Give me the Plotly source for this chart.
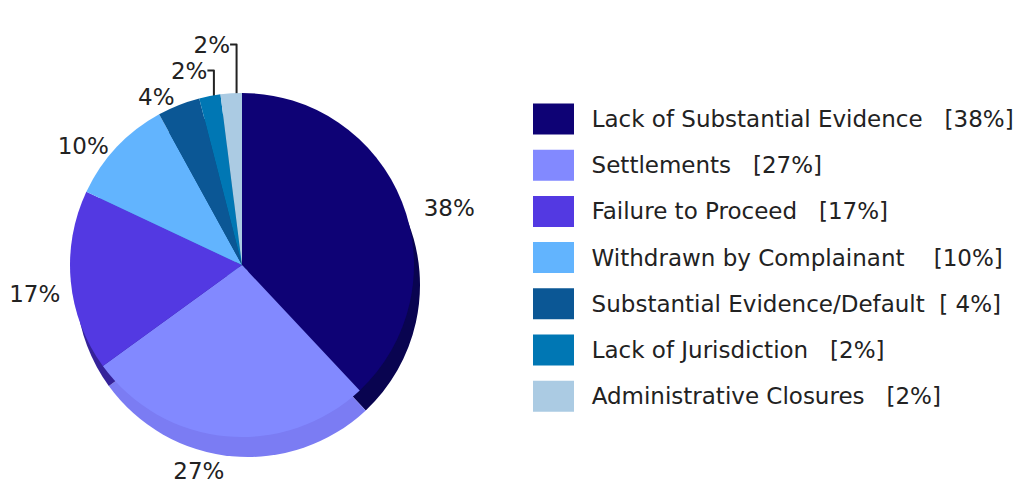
import plotly.graph_objects as go

categories = [
    "Lack of Substantial Evidence",
    "Settlements",
    "Failure to Proceed",
    "Withdrawn by Complainant",
    "Substantial Evidence/Default",
    "Lack of Jurisdiction",
    "Administrative Closures",
]
percentages = [38, 27, 17, 10, 4, 2, 2]
legend_labels = [
    "Lack of Substantial Evidence   [38%]",
    "Settlements   [27%]",
    "Failure to Proceed   [17%]",
    "Withdrawn by Complainant    [10%]",
    "Substantial Evidence/Default  [ 4%]",
    "Lack of Jurisdiction   [2%]",
    "Administrative Closures   [2%]",
]

top_colors = ["#0e0275", "#8289ff", "#5339e2", "#62b4fe", "#0b5795", "#0077b4", "#abcbe3"]
side_colors = ["#090450", "#7b7cf3", "#35229a", "#4a8fd0", "#083f6c", "#005684", "#8aa8c0"]

FONT = "DejaVu Sans"
FS = 23
W, H = 1023, 496
NB = "\u00a0"

# pie geometry (pixels)
cx, cy, r = 242, 265, 172
dx, dy = 6, 20
r_lab = 182


def dom(cx_, cy_, rr):
    return dict(x=[(cx_ - rr) / W, (cx_ + rr) / W], y=[(H - cy_ - rr) / H, (H - cy_ + rr) / H])


fig = go.Figure()

# invisible, slightly larger pie that carries the outside percentage labels
fig.add_trace(go.Pie(
    labels=categories, values=percentages, sort=False, direction="clockwise", rotation=0,
    marker=dict(colors=["rgba(0,0,0,0)"] * len(categories), line=dict(width=0)),
    texttemplate="%{value}%", textposition="outside",
    outsidetextfont=dict(family=FONT, size=FS, color="#222222"),
    hoverinfo="skip", showlegend=False,
    domain=dom(cx + 6, cy + 12, r_lab),
))

# side (depth) of the 3D pie
fig.add_trace(go.Pie(
    labels=categories, values=percentages, sort=False, direction="clockwise", rotation=0,
    marker=dict(colors=side_colors, line=dict(width=0)),
    textinfo="none", hoverinfo="skip", showlegend=False,
    domain=dom(cx + dx, cy + dy, r),
))

# top face
fig.add_trace(go.Pie(
    labels=categories, values=percentages, sort=False, direction="clockwise", rotation=0,
    marker=dict(colors=top_colors, line=dict(width=0)),
    textinfo="none", showlegend=False,
    domain=dom(cx, cy, r),
))

# legend drawn as swatch bars with labels
sw_x0, sw_w = 533, 41
fig.add_trace(go.Bar(
    y=categories, x=[1] * len(categories), orientation="h",
    marker=dict(color=top_colors, line=dict(width=0)),
    width=0.67,
    text=[NB * 2 + t.replace(" ", NB) for t in legend_labels],
    textposition="outside", constraintext="none", cliponaxis=False,
    outsidetextfont=dict(family=FONT, size=FS, color="#222222"),
    hoverinfo="skip", showlegend=False,
))

row_h = 46.2
top_row = 119
ax_top = top_row - row_h / 2
ax_bot = ax_top + row_h * len(categories)

fig.update_layout(
    width=W, height=H, autosize=False,
    margin=dict(l=0, r=0, t=0, b=0, pad=0, autoexpand=False),
    paper_bgcolor="white", plot_bgcolor="white",
    font=dict(family=FONT, color="#222222"),
    showlegend=False,
    xaxis=dict(domain=[sw_x0 / W, 1.0], range=[0, (W - sw_x0) / sw_w],
               visible=False, fixedrange=True),
    yaxis=dict(domain=[(H - ax_bot) / H, (H - ax_top) / H], categoryorder="array",
               categoryarray=categories, range=[len(categories) - 0.5, -0.5],
               visible=False, fixedrange=True),
)

fig.write_html("out.html")
